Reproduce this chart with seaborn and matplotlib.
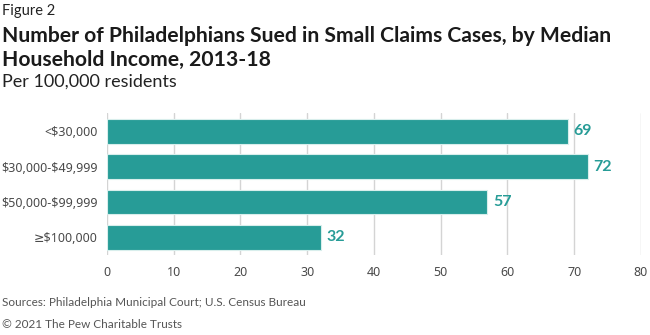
import matplotlib
matplotlib.use("Agg")
import matplotlib.pyplot as plt
import seaborn as sns
import pandas as pd

categories = ["<$30,000", "$30,000-$49,999", "$50,000-$99,999", "≥$100,000"]
values = [69, 72, 57, 32]
x_ticks = [0, 10, 20, 30, 40, 50, 60, 70, 80]

teal = "#279c97"
grey_text = "#4a4a4a"

sns.set_theme(style="white")
plt.rcParams["font.family"] = ["Lato", "DejaVu Sans"]
plt.rcParams["text.parse_math"] = False

df = pd.DataFrame({"income": categories, "sued": values})

fig = plt.figure(figsize=(6.5, 3.35), dpi=100)
ax = fig.add_axes([0.1646, 0.239, 0.8215, 0.424])

sns.barplot(data=df, x="sued", y="income", orient="h", color=teal,
            saturation=1, width=0.7, edgecolor="#d8eeec", linewidth=0.8, ax=ax)

ax.set_xlim(0, 80)
ax.set_ylim(3.5, -0.52)
ax.set_xticks(x_ticks)
ax.grid(axis="x", color="#d4d4d4", linewidth=1)
ax.set_axisbelow(True)
for s in ax.spines.values():
    s.set_visible(False)
ax.set_xlabel("")
ax.set_ylabel("")
ax.tick_params(axis="both", length=0, colors=grey_text)
ax.tick_params(axis="x", pad=8)
ax.tick_params(axis="y", pad=7)
for lab in ax.get_xticklabels() + ax.get_yticklabels():
    lab.set_fontfamily(["Noto Sans", "DejaVu Sans"])
    lab.set_fontsize(9)

for i, v in enumerate(values):
    ax.text(v + 0.9, i, f"{v}", va="center", ha="left", color=teal,
            fontsize=11.5, fontweight="bold")

fig.text(0.003, 0.968, "Figure 2", fontsize=10.5, color="#222222", va="center")
fig.text(0.003, 0.893, "Number of Philadelphians Sued in Small Claims Cases, by Median",
         fontsize=15.2, fontweight="bold", color="#1a1a1a", va="center")
fig.text(0.003, 0.822, "Household Income, 2013-18",
         fontsize=15.2, fontweight="bold", color="#1a1a1a", va="center")
fig.text(0.003, 0.757, "Per 100,000 residents", fontsize=13, color="#222222", va="center")
fig.text(0.003, 0.098, "Sources: Philadelphia Municipal Court; U.S. Census Bureau",
         fontsize=8.5, color="#555555", va="center")
fig.text(0.003, 0.030, "© 2021 The Pew Charitable Trusts",
         fontsize=8.5, color="#555555", va="center")

fig.savefig("out.png", dpi=100)
